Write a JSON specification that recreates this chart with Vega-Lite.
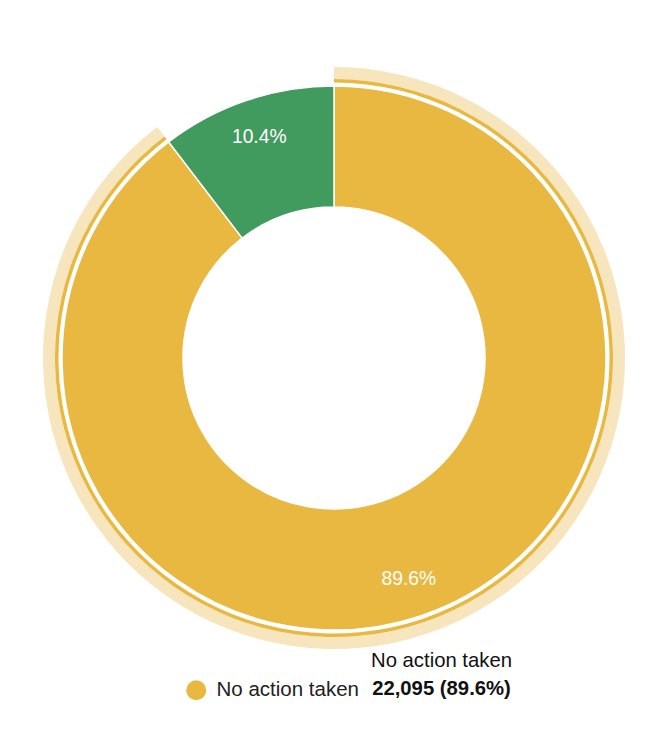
{
  "$schema": "https://vega.github.io/schema/vega-lite/v6.json",
  "width": 668,
  "height": 640,
  "autosize": {"type": "none"},
  "padding": {"top": 38, "left": 0, "right": 4, "bottom": 66},
  "background": "white",
  "data": {
    "values": [
      {"category": "No action taken", "count": 22095, "share": 0.896},
      {"category": "Action taken", "count": 2564, "share": 0.104}
    ]
  },
  "transform": [
    {"calculate": "format(datum.count, ',') + ' (' + format(datum.share, '.1%') + ')'", "as": "tip"}
  ],
  "encoding": {
    "theta": {"field": "count", "type": "quantitative", "stack": true},
    "order": {"field": "count", "type": "quantitative", "sort": "descending"},
    "detail": {"field": "category", "type": "nominal"}
  },
  "layer": [
    {
      "mark": {"type": "arc", "radius": 291, "radius2": 279},
      "encoding": {
        "color": {"value": "#F7E6BD"},
        "opacity": {"condition": {"test": "datum.category === 'No action taken'", "value": 1}, "value": 0}
      }
    },
    {
      "mark": {"type": "arc", "radius": 279, "radius2": 275.5},
      "encoding": {
        "color": {"value": "#E9B840"},
        "opacity": {"condition": {"test": "datum.category === 'No action taken'", "value": 1}, "value": 0}
      }
    },
    {
      "mark": {"type": "arc", "radius": 272, "radius2": 151, "stroke": "white", "strokeWidth": 1.5},
      "encoding": {
        "color": {
          "field": "category",
          "type": "nominal",
          "scale": {"domain": ["No action taken", "Action taken"], "range": ["#E9B840", "#419B5E"]},
          "legend": {
            "values": ["No action taken"],
            "title": null,
            "orient": "none",
            "legendX": 186,
            "legendY": 642,
            "direction": "horizontal",
            "symbolType": "circle",
            "symbolSize": 400,
            "symbolStrokeWidth": 0,
            "labelFontSize": 20.5,
            "labelFont": "Liberation Sans",
            "labelColor": "#222222",
            "labelOffset": 10
          }
        }
      }
    },
    {
      "mark": {"type": "text", "radius": 233, "fontSize": 19.3, "font": "Liberation Sans", "color": "white"},
      "encoding": {
        "text": {"field": "share", "type": "quantitative", "format": ".1%"}
      }
    },
    {
      "mark": {"type": "text", "radius": 335, "dy": -14, "fontSize": 20.3, "font": "Liberation Sans", "color": "#111111"},
      "encoding": {
        "text": {"field": "category", "type": "nominal"},
        "opacity": {"condition": {"test": "datum.category === 'No action taken'", "value": 1}, "value": 0}
      }
    },
    {
      "mark": {"type": "text", "radius": 335, "dy": 14, "fontSize": 20.3, "font": "Liberation Sans", "fontWeight": "bold", "color": "#111111"},
      "encoding": {
        "text": {"field": "tip", "type": "nominal"},
        "opacity": {"condition": {"test": "datum.category === 'No action taken'", "value": 1}, "value": 0}
      }
    }
  ]
}
